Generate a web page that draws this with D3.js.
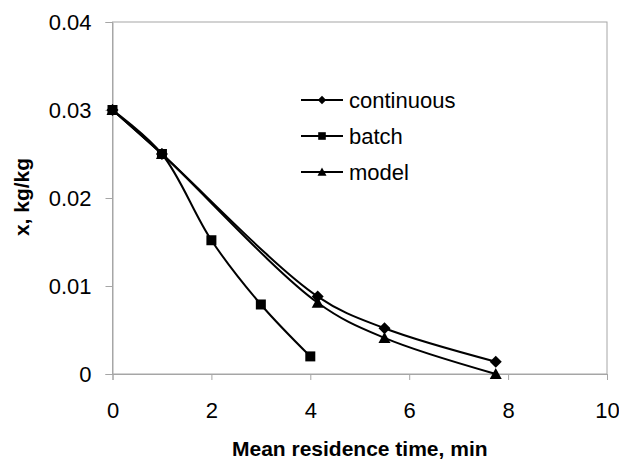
<!DOCTYPE html>
<html>
<head>
<meta charset="utf-8">
<script src="https://cdn.jsdelivr.net/npm/d3@7"></script>
<style>
body { margin: 0; background: #fff; }
text { font-family: Arial, "Liberation Sans", sans-serif; }
</style>
</head>
<body>
<div id="chart"></div>
<script>
const time = [0, 1, 4.15, 5.5, 7.75];
const continuous = [0.030, 0.025, 0.0088, 0.0052, 0.0014];
const batchTime = [0, 1, 2, 3, 4];
const batch = [0.030, 0.025, 0.0152, 0.0079, 0.0020];
const model = [0.030, 0.025, 0.0081, 0.0041, 0.0];
const xTicks = [0, 2, 4, 6, 8, 10];
const yTicks = [0, 0.01, 0.02, 0.03, 0.04];

const width = 619;
const height = 459;
const margin = { top: 22, right: 12, bottom: 85, left: 112.5 };
const w = width - margin.left - margin.right;
const h = height - margin.top - margin.bottom;

const svg = d3.select("#chart")
    .append("svg")
    .attr("width", width)
    .attr("height", height);

const g = svg.append("g")
    .attr("transform", `translate(${margin.left}, ${margin.top})`);

const xScale = d3.scaleLinear().domain([0, 10]).range([0, w]);
const yScale = d3.scaleLinear().domain([0, 0.04]).range([h, 0]);

// simple marker shapes, size = half width in px
const diamond = { draw(ctx, r) { ctx.moveTo(0, -r); ctx.lineTo(r, 0); ctx.lineTo(0, r); ctx.lineTo(-r, 0); ctx.closePath(); } };
const square = { draw(ctx, r) { ctx.rect(-r, -r, 2 * r, 2 * r); } };
const triangle = { draw(ctx, r) { ctx.moveTo(0, -r); ctx.lineTo(r, r * 0.85); ctx.lineTo(-r, r * 0.85); ctx.closePath(); } };

// plot frame
g.append("rect")
    .attr("width", w)
    .attr("height", h)
    .attr("fill", "none")
    .attr("stroke", "#a6a6a6");

const xAxis = g.append("g")
    .attr("transform", `translate(0, ${h})`)
    .call(d3.axisBottom(xScale).tickValues(xTicks).tickSize(6).tickPadding(22).tickFormat(d3.format("d")));

const yAxis = g.append("g")
    .call(d3.axisLeft(yScale).tickValues(yTicks).tickSize(7).tickPadding(14).tickFormat(d => d === 0 ? "0" : d3.format(".2f")(d)));

[xAxis, yAxis].forEach(a => {
    a.select(".domain").attr("stroke", "#a6a6a6");
    a.selectAll(".tick line").attr("stroke", "#a6a6a6");
    a.selectAll(".tick text")
        .attr("fill", "#000")
        .style("font-size", "22px")
        .style("font-family", "Arial, 'Liberation Sans', sans-serif");
});
yAxis.selectAll(".tick text").attr("dy", "0.36em");

const series = [
    { name: "continuous", xs: time, ys: continuous, marker: diamond, r: 6, lr: 4.2 },
    { name: "batch", xs: batchTime, ys: batch, marker: square, r: 5, lr: 3.8 },
    { name: "model", xs: time, ys: model, marker: triangle, r: 6, lr: 4.5 }
];

const line = d3.line()
    .x(d => xScale(d[0]))
    .y(d => yScale(d[1]))
    .curve(d3.curveCatmullRom.alpha(0.5));

series.forEach(s => {
    const pts = s.xs.map((x, i) => [x, s.ys[i]]);
    g.append("path")
        .datum(pts)
        .attr("fill", "none")
        .attr("stroke", "#000")
        .attr("stroke-width", 2)
        .attr("d", line);
    g.selectAll(null)
        .data(pts)
        .enter()
        .append("path")
        .attr("transform", d => `translate(${xScale(d[0])}, ${yScale(d[1])})`)
        .attr("d", d3.symbol().type(s.marker).size(s.r))
        .attr("fill", "#000");
});

const legend = svg.append("g")
    .attr("transform", "translate(301, 100)");

series.forEach((s, i) => {
    const row = legend.append("g").attr("transform", `translate(0, ${i * 36})`);
    row.append("line")
        .attr("x1", 0).attr("x2", 42)
        .attr("stroke", "#000").attr("stroke-width", 2);
    row.append("path")
        .attr("transform", "translate(21, 0)")
        .attr("d", d3.symbol().type(s.marker).size(s.lr))
        .attr("fill", "#000");
    row.append("text")
        .attr("x", 48)
        .attr("dy", "0.36em")
        .style("font-size", "22px")
        .text(s.name);
});

svg.append("text")
    .attr("x", margin.left + w / 2)
    .attr("y", 456)
    .attr("text-anchor", "middle")
    .style("font-size", "21px")
    .style("font-weight", "bold")
    .text("Mean residence time, min");

svg.append("text")
    .attr("transform", `translate(29, ${197}) rotate(-90)`)
    .attr("text-anchor", "middle")
    .style("font-size", "21px")
    .style("font-weight", "bold")
    .text("x, kg/kg");
</script>
</body>
</html>
